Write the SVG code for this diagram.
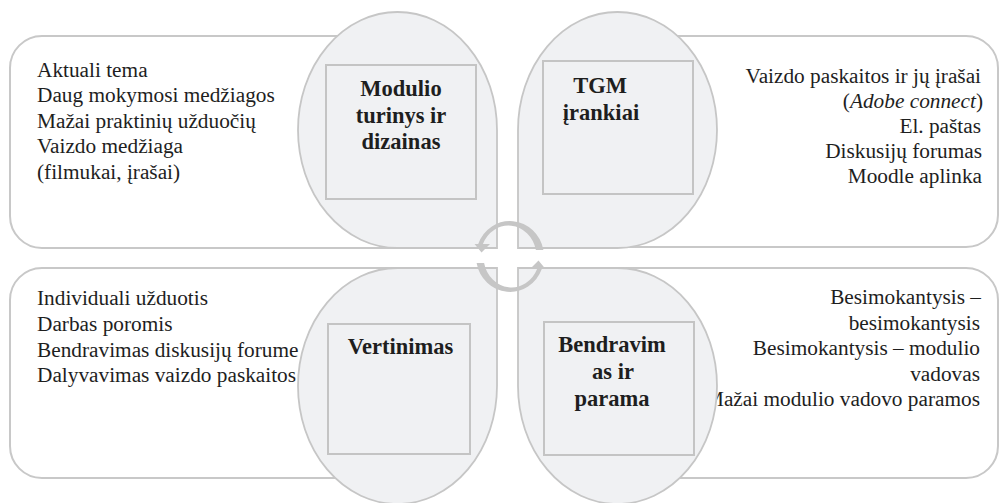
<svg xmlns="http://www.w3.org/2000/svg" width="1001" height="503" viewBox="0 0 1001 503">
  <defs>
    <style>
      .panel { fill: #ffffff; stroke: #c8c8c8; stroke-width: 2; }
      .lobe { fill: #f0f1f3; stroke: #c6c6c6; stroke-width: 1.8; }
      .box { fill: #f0f1f3; stroke: #c4c4c4; stroke-width: 2; }
      .body { font-size: 21.3px; fill: #1e1e1e; }
      .right { text-anchor: end; }
      .title { font-size: 22.5px; font-weight: bold; fill: #1e1e1e; text-anchor: middle; }
      .cycle { fill: #c6c6c6; }
    </style>
  </defs>

  <g font-family="Liberation Serif, Times New Roman, DejaVu Serif, serif">
  <!-- top-left quadrant: module content and design -->
  <g id="content-design">
    <path class="panel" d="M420,36 L42,36 A32,32 0 0 0 10,68 L10,216 A32,32 0 0 0 42,248 L420,248"/>
    <text class="body" x="37" y="76.5">Aktuali tema</text>
    <text class="body" x="37" y="102">Daug mokymosi medžiagos</text>
    <text class="body" x="37" y="127.5">Mažai praktinių užduočių</text>
    <text class="body" x="37" y="153">Vaizdo medžiaga</text>
    <text class="body" x="37" y="178.5">(filmukai, įrašai)</text>
    <path class="lobe" d="M497,248 L397.5,248 A99.5,118 0 0 1 298,130 A99.5,118 0 0 1 397.5,12 A99.5,118 0 0 1 497,130 Z"/>
    <rect class="box" x="326" y="65" width="150" height="134"/>
    <text class="title" x="401" y="96">Modulio</text>
    <text class="title" x="401" y="122.5">turinys ir</text>
    <text class="title" x="401" y="149">dizainas</text>
  </g>

  <!-- top-right quadrant: distance learning tools -->
  <g id="tools">
    <path class="panel" d="M600,36 L966,36 A32,32 0 0 1 998,68 L998,215 A32,32 0 0 1 966,247 L600,247"/>
    <text class="body right" x="981" y="83.3">Vaizdo paskaitos ir jų įrašai</text>
    <text class="body right" x="983" y="108.3">(<tspan font-style="italic">Adobe connect</tspan>)</text>
    <text class="body right" x="981" y="133.3">El. paštas</text>
    <text class="body right" x="982" y="158.3">Diskusijų forumas</text>
    <text class="body right" x="982" y="183.3">Moodle aplinka</text>
    <path class="lobe" d="M518,248 L518,130 A99.5,118 0 0 1 617.5,12 A99.5,118 0 0 1 717,130 A99.5,118 0 0 1 617.5,248 Z"/>
    <rect class="box" x="543" y="61" width="150" height="133"/>
    <text class="title" x="600" y="93">TGM</text>
    <text class="title" x="601" y="119.5">įrankiai</text>
  </g>

  <!-- bottom-left quadrant: assessment -->
  <g id="assessment">
    <path class="panel" d="M420,268 L42,268 A32,32 0 0 0 10,300 L10,446 A32,32 0 0 0 42,478 L420,478"/>
    <text class="body" x="37" y="305">Individuali užduotis</text>
    <text class="body" x="37" y="331">Darbas poromis</text>
    <text class="body" x="37" y="356.5">Bendravimas diskusijų forume</text>
    <text class="body" x="37" y="382">Dalyvavimas vaizdo paskaitos</text>
    <path class="lobe" d="M497,268 L497,386 A99.5,118 0 0 1 397.5,504 A99.5,118 0 0 1 298,386 A99.5,118 0 0 1 397.5,268 Z"/>
    <rect class="box" x="328" y="324" width="142" height="130"/>
    <text class="title" x="400.5" y="354">Vertinimas</text>
  </g>

  <!-- bottom-right quadrant: communication and support -->
  <g id="communication">
    <path class="panel" d="M600,268 L966,268 A32,32 0 0 1 998,300 L998,446 A32,32 0 0 1 966,478 L600,478"/>
    <text class="body right" x="981" y="304">Besimokantysis –</text>
    <text class="body right" x="980" y="329.5">besimokantysis</text>
    <text class="body right" x="980" y="355">Besimokantysis – modulio</text>
    <text class="body right" x="980" y="380.5">vadovas</text>
    <text class="body right" x="980" y="406">Mažai modulio vadovo paramos</text>
    <path class="lobe" d="M518,268 L617.5,268 A99.5,118 0 0 1 717,386 A99.5,118 0 0 1 617.5,504 A99.5,118 0 0 1 518,386 Z"/>
    <rect class="box" x="544" y="322" width="150" height="133"/>
    <text class="title" x="612" y="352">Bendravim</text>
    <text class="title" x="613" y="379">as ir</text>
    <text class="title" x="612" y="406">parama</text>
  </g>
  </g>

  <!-- connectors: the two circular arrows in the middle -->
  <g id="connectors">
    <path id="arc-top" class="cycle" d="M543.4,250 A34,35.5 0 0 0 478.2,244 L474.5,244 L481.5,252.5 L490,244 L482.9,244 A28,31 0 0 1 535.9,250 Z"/>
    <path id="arc-bottom" class="cycle" transform="rotate(180 510 256.5)" d="M543.4,250 A34,35.5 0 0 0 478.2,244 L474.5,244 L481.5,252.5 L490,244 L482.9,244 A28,31 0 0 1 535.9,250 Z"/>
  </g>
</svg>
